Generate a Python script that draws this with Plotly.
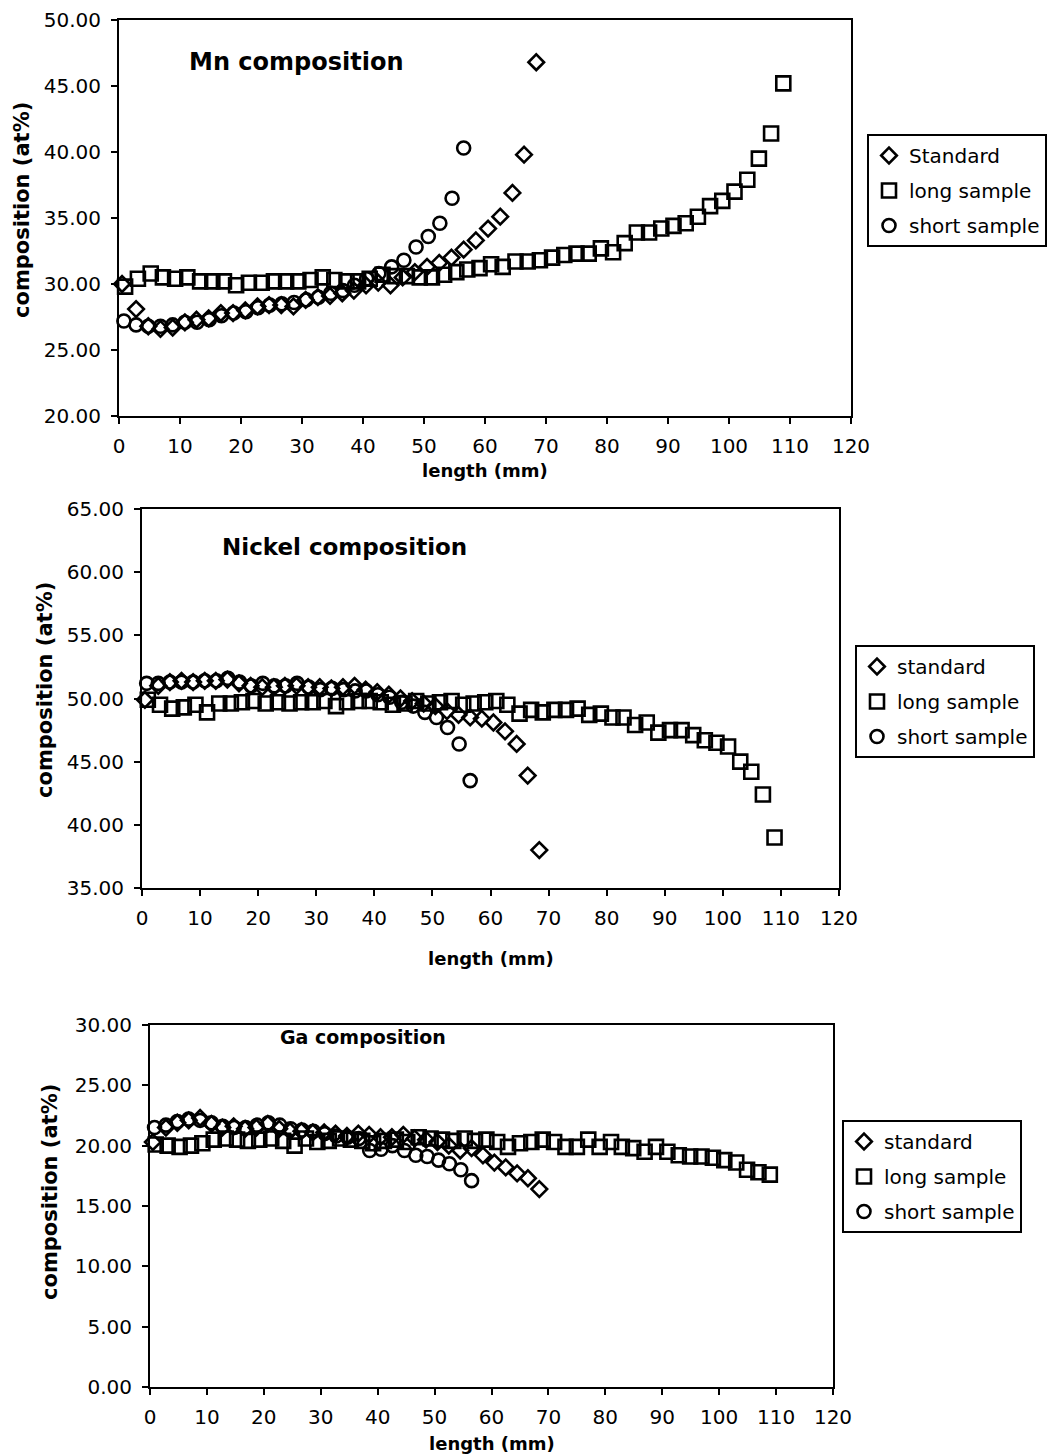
import plotly.graph_objects as go

W, H = 1050, 1456
FONT = "DejaVu Sans"

# positions along the sample (mm)
std_x = [0.5, 2.8, 4.8, 6.8, 8.8, 10.8, 12.7, 14.7, 16.7, 18.7, 20.7, 22.7, 24.6, 26.6, 28.6,
         30.6, 32.6, 34.6, 36.6, 38.5, 40.5, 42.5, 44.5, 46.5, 48.5, 50.5, 52.5, 54.5, 56.5,
         58.5, 60.5, 62.5, 64.5, 66.4, 68.4]
long_x = [1.0, 3.1, 5.2, 7.2, 9.2, 11.2, 13.3, 15.3, 17.2, 19.2, 21.3, 23.4, 25.4, 27.4, 29.4,
          31.4, 33.4, 35.3, 37.3, 39.2, 41.1, 43.2, 45.2, 47.2, 49.3, 51.3, 53.3, 55.3, 57.1,
          59.1, 61.0, 62.9, 65.0, 67.0, 69.0, 71.0, 73.0, 75.0, 77.0, 79.0, 81.0, 82.9, 84.9,
          86.9, 88.9, 90.9, 92.9, 94.9, 96.9, 98.9, 100.9, 103.0, 104.9, 106.9, 108.9]
short_x = [0.8, 2.8, 4.8, 6.8, 8.8, 10.8, 12.8, 14.8, 16.8, 18.8, 20.8, 22.8, 24.7, 26.7, 28.7,
           30.7, 32.7, 34.7, 36.7, 38.6, 40.6, 42.6, 44.7, 46.7, 48.7, 50.7, 52.6, 54.6, 56.5]

# Mn (at%)
mn_standard = [30.0, 28.1, 26.8, 26.6, 26.7, 27.1, 27.3, 27.4, 27.8, 27.8, 28.0, 28.3, 28.4, 28.4,
               28.3, 28.8, 29.0, 29.1, 29.3, 29.5, 29.9, 30.1, 29.9, 30.5, 30.9, 31.3, 31.6, 32.0,
               32.6, 33.3, 34.2, 35.1, 36.9, 39.8, 46.8]
mn_long = [29.8, 30.4, 30.8, 30.5, 30.4, 30.5, 30.2, 30.2, 30.2, 29.9,
           30.1, 30.1, 30.2, 30.2, 30.2, 30.3, 30.5, 30.3, 30.2, 30.2,
           30.4, 30.7, 30.6, 30.6, 30.5, 30.5, 30.7, 30.9, 31.1, 31.2,
           31.5, 31.3, 31.7, 31.7, 31.8, 32.0, 32.2, 32.3, 32.3, 32.7,
           32.4, 33.1, 33.9, 33.9, 34.2, 34.4, 34.6, 35.1, 35.9, 36.3,
           37.0, 37.9, 39.5, 41.4, 45.2]
mn_short = [27.2, 26.9, 26.8, 26.8, 26.9, 27.1, 27.1, 27.3, 27.6, 27.8, 27.9, 28.2, 28.4, 28.5,
            28.6, 28.8, 29.0, 29.3, 29.5, 29.9, 30.4, 30.8, 31.3, 31.8, 32.8, 33.6, 34.6, 36.5, 40.3]

# Ni (at%)
ni_standard = [49.9, 51.0, 51.3, 51.4, 51.3, 51.4, 51.4, 51.5, 51.2, 51.0, 50.9, 50.9, 51.0, 51.0,
               50.9, 50.9, 50.8, 50.9, 51.0, 50.7, 50.5, 50.3, 50.0, 49.8, 49.6, 49.4, 49.0, 48.7,
               48.5, 48.4, 48.1, 47.4, 46.4, 43.9, 38.0]
ni_long = [49.9, 49.5, 49.2, 49.3, 49.5, 48.9, 49.6, 49.6, 49.7, 49.8,
           49.6, 49.7, 49.6, 49.7, 49.7, 49.8, 49.4, 49.7, 49.8, 49.8,
           49.7, 49.5, 49.6, 49.8, 49.6, 49.7, 49.8, 49.5, 49.6, 49.7,
           49.8, 49.5, 48.8, 49.1, 48.9, 49.1, 49.1, 49.2, 48.7, 48.8,
           48.5, 48.5, 47.9, 48.1, 47.3, 47.5, 47.5, 47.1, 46.7, 46.5,
           46.2, 45.0, 44.2, 42.4, 39.0]
ni_short = [51.2, 51.2, 51.3, 51.3, 51.3, 51.4, 51.4, 51.6, 51.3, 51.0, 51.2, 51.0, 51.0, 51.2,
            50.9, 50.7, 50.8, 50.7, 50.6, 50.6, 50.3, 50.1, 49.7, 49.4, 48.9, 48.5, 47.7, 46.4, 43.5]

# Ga (at%)
ga_standard = [20.3, 21.5, 21.9, 22.1, 22.3, 21.8, 21.5, 21.6, 21.4, 21.5, 21.8, 21.4, 21.2, 21.2,
               21.1, 21.1, 21.0, 20.8, 21.0, 20.9, 20.7, 20.7, 20.9, 20.6, 20.5, 20.3, 20.0, 19.6,
               19.8, 19.2, 18.6, 18.2, 17.7, 17.3, 16.4]
ga_long = [20.1, 20.0, 19.9, 20.0, 20.2, 20.5, 20.6, 20.5, 20.4, 20.5,
           20.6, 20.4, 20.0, 20.6, 20.3, 20.4, 20.6, 20.5, 20.4, 20.2,
           20.4, 20.5, 20.3, 20.7, 20.6, 20.5, 20.4, 20.6, 20.4, 20.5,
           20.3, 19.9, 20.2, 20.3, 20.5, 20.3, 19.9, 19.9, 20.5, 19.9,
           20.3, 19.9, 19.8, 19.5, 19.9, 19.5, 19.2, 19.1, 19.1, 19.0,
           18.8, 18.6, 18.0, 17.8, 17.6]
ga_short = [21.5, 21.7, 22.0, 22.2, 22.1, 21.9, 21.6, 21.5, 21.5, 21.7, 21.9, 21.7, 21.4, 21.3,
            21.2, 21.0, 20.8, 20.7, 20.6, 19.6, 19.7, 20.0, 19.6, 19.2, 19.1, 18.8, 18.5, 18.0, 17.1]

x_ticks = [0, 10, 20, 30, 40, 50, 60, 70, 80, 90, 100, 110, 120]
series_names = ["long sample", "short sample"]


def fx(px):
    return px / W


def fy(px):
    return 1 - px / H


panels = [
    dict(title="Mn composition", title_size=24, title_at=(187, 62), std_label="Standard",
         std=mn_standard, long=mn_long, short=mn_short, yrange=(20, 50),
         box=(119, 851, 20, 416), legend_at=(1047, 134), ytitle_at=(22, 210), xtitle_y=471),
    dict(title="Nickel composition", title_size=23, title_at=(220, 547), std_label="standard",
         std=ni_standard, long=ni_long, short=ni_short, yrange=(35, 65),
         box=(142, 839, 509, 888), legend_at=(1035, 645), ytitle_at=(45, 690), xtitle_y=958),
    dict(title="Ga composition", title_size=19, title_at=(278, 1037), std_label="standard",
         std=ga_standard, long=ga_long, short=ga_short, yrange=(0, 30),
         box=(150, 833, 1025, 1387), legend_at=(1022, 1120), ytitle_at=(50, 1192), xtitle_y=1443),
]

fig = go.Figure()
layout = dict(width=W, height=H, margin=dict(l=0, r=0, t=0, b=0, autoexpand=False),
              template=go.layout.Template(),
              paper_bgcolor="white", plot_bgcolor="white",
              font=dict(family=FONT, color="black"), annotations=[])

marker_style = [("diamond-open", 12), ("square-open", 14), ("circle-open", 13)]

for i, p in enumerate(panels):
    n = "" if i == 0 else str(i + 1)
    xref, yref = "x" + n, "y" + n
    leg = "legend" + n
    x0, x1, y0, y1 = p["box"]

    data = [(p["std_label"], std_x, p["std"]),
            (series_names[0], long_x, p["long"]),
            (series_names[1], short_x, p["short"])]
    for (label, xs, ys), (sym, size) in zip(data, marker_style):
        fig.add_trace(go.Scatter(
            x=xs, y=ys, mode="markers", name=label, xaxis=xref, yaxis=yref,
            legend=leg, legendgroup=f"{i}-{label}", cliponaxis=False,
            marker=dict(symbol=sym, size=size, color="black", line=dict(width=2.6, color="black")),
        ))

    axis_common = dict(showline=True, linewidth=2, linecolor="black", mirror=True,
                       ticks="outside", ticklen=6, tickwidth=2, tickcolor="black",
                       showgrid=False, zeroline=False, automargin=False,
                       tickfont=dict(family=FONT, size=20, color="black"))
    layout["xaxis" + n] = dict(axis_common, domain=[fx(x0), fx(x1)], range=[0, 120],
                               tickvals=x_ticks, anchor=yref, ticklabelstandoff=5)
    layout["yaxis" + n] = dict(axis_common, domain=[fy(y1), fy(y0)], range=list(p["yrange"]),
                               dtick=5, tick0=0, tickformat=".2f", anchor=xref,
                               ticklabelstandoff=6)

    lx, ly = p["legend_at"]
    layout[leg] = dict(x=fx(lx), y=fy(ly), xanchor="right", yanchor="top",
                       bgcolor="white", bordercolor="black", borderwidth=2,
                       font=dict(family=FONT, size=20, color="black"),
                       traceorder="grouped", tracegroupgap=6, itemwidth=30)

    tx, ty = p["title_at"]
    layout["annotations"].append(dict(
        text=f"<b>{p['title']}</b>", x=fx(tx), y=fy(ty), xref="paper", yref="paper",
        xanchor="left", yanchor="middle", showarrow=False,
        font=dict(family=FONT, size=p["title_size"], color="black")))
    layout["annotations"].append(dict(
        text="<b>length (mm)</b>", x=fx((x0 + x1) / 2), y=fy(p["xtitle_y"]),
        xref="paper", yref="paper", xanchor="center", yanchor="middle", showarrow=False,
        font=dict(family=FONT, size=18, color="black")))
    ax, ay = p["ytitle_at"]
    layout["annotations"].append(dict(
        text="<b>composition (at%)</b>", x=fx(ax), y=fy(ay), xref="paper", yref="paper",
        xanchor="center", yanchor="middle", textangle=-90, showarrow=False,
        font=dict(family=FONT, size=21, color="black")))

fig.update_layout(**layout)
fig.write_html("out.html")
